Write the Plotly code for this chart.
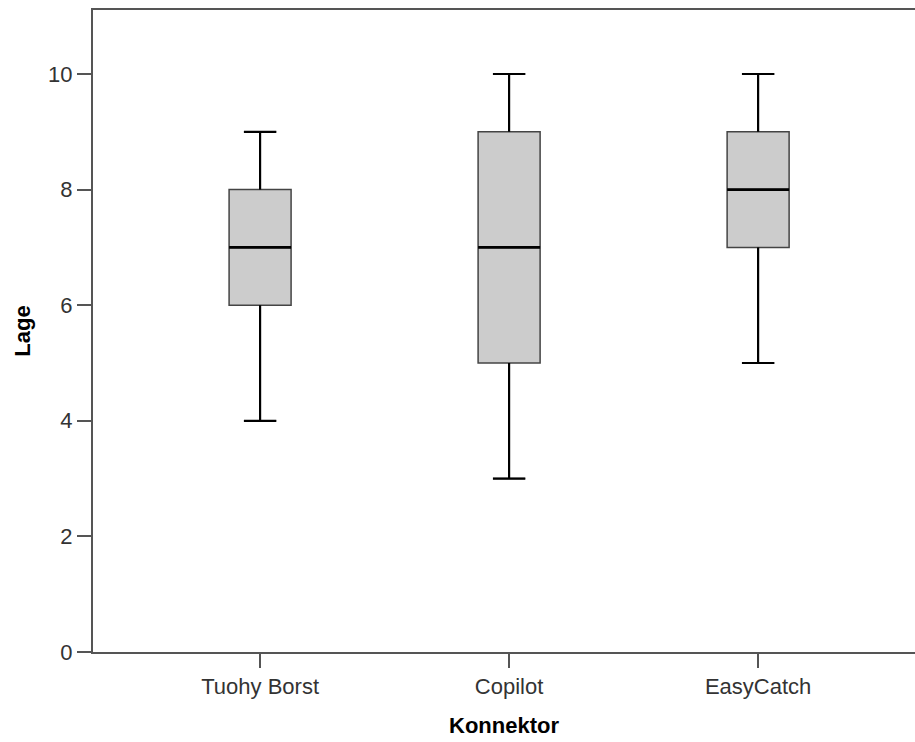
import plotly.graph_objects as go

categories = ["Tuohy Borst", "Copilot", "EasyCatch"]
mins = [4, 3, 5]
q1 = [6, 5, 7]
medians = [7, 7, 8]
q3 = [8, 9, 9]
maxs = [9, 10, 10]
y_ticks = [0, 2, 4, 6, 8, 10]

pos = list(range(len(categories)))
BOX_W = 0.249
CAP_W = 0.13

fig = go.Figure()
fig.add_trace(go.Box(
    x=pos, q1=q1, median=medians, q3=q3, lowerfence=mins, upperfence=maxs,
    width=BOX_W, whiskerwidth=0.52, fillcolor="#cccccc",
    line=dict(color="#444444", width=1.5), boxpoints=False, hoverinfo="skip",
))

wx, wy = [], []
for i, lo, a, b, hi in zip(pos, mins, q1, q3, maxs):
    wx += [i, i, None, i - CAP_W / 2, i + CAP_W / 2, None,
           i, i, None, i - CAP_W / 2, i + CAP_W / 2, None]
    wy += [b, hi, None, hi, hi, None, a, lo, None, lo, lo, None]
fig.add_trace(go.Scatter(x=wx, y=wy, mode="lines",
                         line=dict(color="black", width=2.2), hoverinfo="skip"))

mx, my = [], []
for i, m in zip(pos, medians):
    mx += [i - BOX_W / 2, i + BOX_W / 2, None]
    my += [m, m, None]
fig.add_trace(go.Scatter(x=mx, y=my, mode="lines",
                         line=dict(color="black", width=2.8), hoverinfo="skip"))

font_fam = "Liberation Sans, Arial, sans-serif"
fig.update_layout(
    width=915, height=742,
    margin=dict(l=93, r=0, t=10, b=90),
    paper_bgcolor="white", plot_bgcolor="white",
    showlegend=False, hovermode=False,
    font=dict(family=font_fam, size=22, color="#333333"),
    xaxis=dict(
        range=[-0.671, 2.63], tickvals=pos, ticktext=categories,
        showline=True, linecolor="#555555", linewidth=2, mirror=True,
        ticks="outside", ticklen=14, tickwidth=2, tickcolor="#555555",
        showgrid=False, zeroline=False,
        tickfont=dict(size=22, color="#333333"),
        title=dict(text="<b>Konnektor</b>", font=dict(size=22, color="black"), standoff=19),
    ),
    yaxis=dict(
        range=[0, 11.107], tickvals=y_ticks,
        showline=True, linecolor="#555555", linewidth=2,
        ticks="outside", ticklen=14, tickwidth=2, tickcolor="#555555",
        showgrid=False, zeroline=False,
        tickfont=dict(size=22, color="#333333"),
        title=dict(text="<b>Lage</b>", font=dict(size=22, color="black"), standoff=11),
    ),
)
fig.write_html("out.html")
